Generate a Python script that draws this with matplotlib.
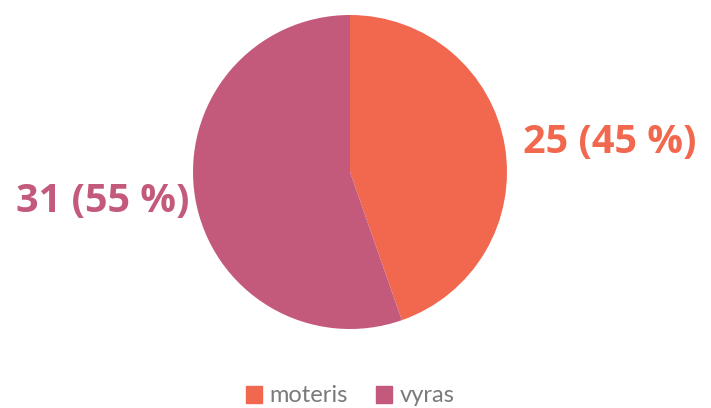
import matplotlib.pyplot as plt
import numpy as np

labels = ['moteris', 'vyras']
values = [25, 31]
colors = ['#F2684F', '#C45A7B']

plt.rcParams['font.family'] = ['Open Sans', 'DejaVu Sans']

fig = plt.figure(figsize=(7.11, 4.08), dpi=100)
# pie centre at (350, 172) px, radius 157 px
ax = fig.add_axes([(350 - 157) / 711, (236 - 157) / 408, 314 / 711, 314 / 408])

wedges, _ = ax.pie(values, colors=colors, startangle=90, counterclock=False,
                   radius=1.0)
ax.set_xlim(-1, 1)
ax.set_ylim(-1, 1)
ax.set_aspect('auto')
ax.axis('off')

total = sum(values)
for w, v, c in zip(wedges, values, colors):
    ang = np.deg2rad((w.theta1 + w.theta2) / 2)
    right = np.cos(ang) > 0
    r = 1.12 if right else 1.04
    x, y = r * np.cos(ang), 1.11 * np.sin(ang)
    ax.text(x, y, f'{v} ({round(100 * v / total)} %)', color=c, fontsize=28.5,
            fontweight='bold', ha='left' if right else 'right', va='center',
            clip_on=False)

handles = [plt.Rectangle((0, 0), 1, 1, color=c) for c in colors]
leg = fig.legend(handles, labels, loc='center', bbox_to_anchor=(350 / 711, 12 / 408),
                 ncol=2, frameon=False, handlelength=0.7,
                 handleheight=0.7, handletextpad=0.3, columnspacing=1.2,
                 prop={'family': 'Lato', 'size': 17})
for t in leg.get_texts():
    t.set_color('#7a7a7a')

fig.savefig('out.png', dpi=100)
